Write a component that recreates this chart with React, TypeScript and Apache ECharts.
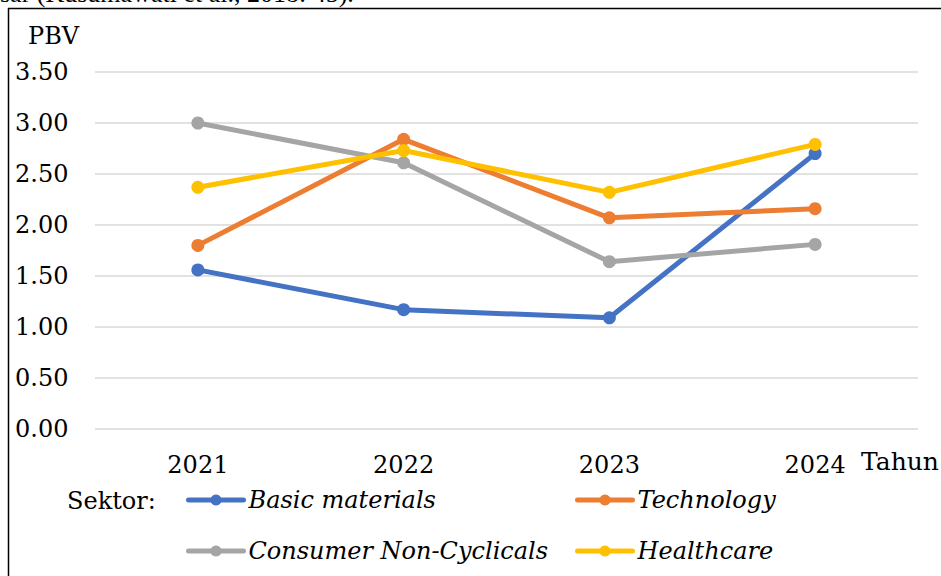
import React, { useEffect, useRef } from 'react';
import * as echarts from 'echarts';

const years = ['2021', '2022', '2023', '2024'];
const basicMaterials = [1.56, 1.17, 1.09, 2.7];
const technology = [1.8, 2.84, 2.07, 2.16];
const consumerNonCyclicals = [3.0, 2.61, 1.64, 1.81];
const healthcare = [2.37, 2.73, 2.32, 2.79];
const seriesNames = ['Basic materials', 'Technology', 'Consumer Non-Cyclicals', 'Healthcare'];
const seriesColors = ['#4472C4', '#ED7D31', '#A5A5A5', '#FFC000'];
const yMin = 0;
const yMax = 3.5;
const yStep = 0.5;

const FONT = "'DejaVu Serif', serif";

export default function App() {
  const ref = useRef<HTMLDivElement>(null);
  useEffect(() => {
    if (!ref.current) return;
    const chart = echarts.init(ref.current, undefined, { renderer: 'svg' });
    const values = [basicMaterials, technology, consumerNonCyclicals, healthcare];
    const legendPos = [
      { left: 186, top: 488 },
      { left: 575, top: 488 },
      { left: 186, top: 539 },
      { left: 575, top: 539 },
    ];
    chart.setOption({
      animation: false,
      backgroundColor: '#fff',
      grid: { left: 95, right: 23, top: 72, bottom: 147 },
      xAxis: {
        type: 'category',
        data: years,
        boundaryGap: true,
        axisLine: { show: false },
        axisTick: { show: false },
        axisLabel: { color: '#000', fontFamily: FONT, fontSize: 24, margin: 24 },
      },
      yAxis: {
        type: 'value',
        min: yMin,
        max: yMax,
        interval: yStep,
        axisLine: { show: false },
        axisTick: { show: false },
        axisLabel: {
          color: '#000',
          fontFamily: FONT,
          fontSize: 24,
          align: 'left',
          margin: 80,
          formatter: (v: number) => v.toFixed(2),
        },
        splitLine: { lineStyle: { color: '#D9D9D9', width: 1.5 } },
      },
      legend: seriesNames.map((n, i) => ({
        data: [n],
        left: legendPos[i].left,
        top: legendPos[i].top,
        padding: 0,
        itemWidth: 55,
        itemHeight: 14,
        selectedMode: false,
        lineStyle: { width: 5, cap: 'round' },
        textStyle: { color: '#000', fontFamily: FONT, fontStyle: 'italic', fontSize: 24 },
      })),
      series: seriesNames.map((n, i) => ({
        name: n,
        type: 'line',
        data: values[i],
        symbol: 'circle',
        symbolSize: 13,
        color: seriesColors[i],
        lineStyle: { width: 5, color: seriesColors[i] },
        itemStyle: { color: seriesColors[i] },
      })),
      graphic: [
        {
          type: 'text',
          left: 0,
          top: -20,
          style: { text: 'sar (Kusumawati et al., 2018: 45).', fill: '#000', font: "26px 'Liberation Serif', serif" },
        },
        { type: 'line', shape: { x1: 8.5, y1: 8, x2: 8.5, y2: 576 }, style: { stroke: '#000', lineWidth: 1.5 } },
        { type: 'line', shape: { x1: 8, y1: 8.5, x2: 941, y2: 8.5 }, style: { stroke: '#000', lineWidth: 1.5 } },
        {
          type: 'text',
          x: 28,
          y: 36,
          style: { text: 'PBV', fill: '#000', font: `24px ${FONT}`, verticalAlign: 'middle' },
        },
        {
          type: 'text',
          x: 861,
          y: 461,
          style: { text: 'Tahun', fill: '#000', font: `25px ${FONT}`, verticalAlign: 'middle' },
        },
        {
          type: 'text',
          x: 67,
          y: 501,
          style: { text: 'Sektor:', fill: '#000', font: `24px ${FONT}`, verticalAlign: 'middle' },
        },
      ],
    });
    return () => chart.dispose();
  }, []);
  return (
    <div
      ref={ref}
      style={{ position: 'fixed', left: 0, top: 0, width: 941, height: 576, background: '#fff' }}
    />
  );
}
